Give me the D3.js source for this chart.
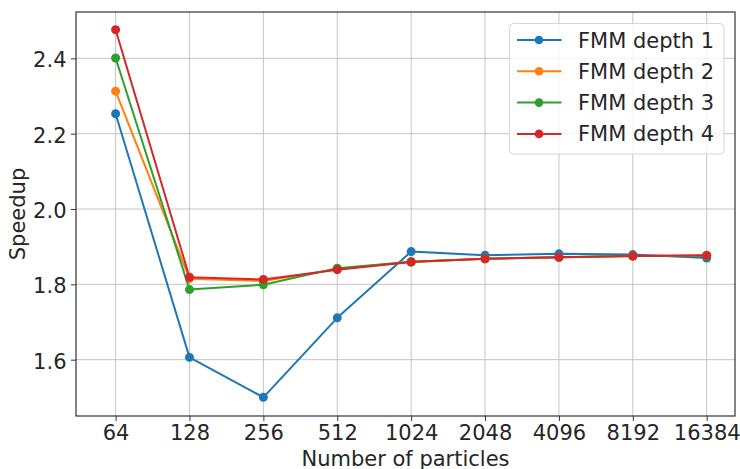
<!DOCTYPE html>
<html>
<head>
<meta charset="utf-8">
<script src="https://cdn.jsdelivr.net/npm/d3@7"></script>
<style>
  html, body { margin: 0; padding: 0; background: #fff; }
  svg { display: block; }
  text { font-family: "DejaVu Sans", sans-serif; fill: #262626; }
</style>
</head>
<body>
<svg id="chart" width="740" height="469"></svg>
<script>
const categories = ["64", "128", "256", "512", "1024", "2048", "4096", "8192", "16384"];
const seriesNames = ["FMM depth 1", "FMM depth 2", "FMM depth 3", "FMM depth 4"];
const depth1 = [2.253, 1.606, 1.500, 1.711, 1.887, 1.877, 1.881, 1.879, 1.870];
const depth2 = [2.313, 1.815, 1.809, 1.840, 1.860, 1.868, 1.872, 1.875, 1.876];
const depth3 = [2.401, 1.786, 1.799, 1.843, 1.860, 1.868, 1.872, 1.875, 1.876];
const depth4 = [2.476, 1.819, 1.813, 1.839, 1.859, 1.868, 1.872, 1.875, 1.877];
const yTicks = [1.6, 1.8, 2.0, 2.2, 2.4];
const colors = ["#1f77b4", "#ff7f0e", "#2ca02c", "#d62728"];

const series = [depth1, depth2, depth3, depth4].map((vals, i) => ({ name: seriesNames[i], values: vals, color: colors[i] }));

const svg = d3.select("#chart");
const pL = 76, pR = 735, pT = 12, pB = 416;
const FS = "21px";

const x = d3.scaleLinear().domain([-0.536, 8.383]).range([pL, pR]);
const y = d3.scaleLinear().domain([1.4504, 2.5231]).range([pB, pT]);

// grid
const grid = svg.append("g");
grid.selectAll("line.vx").data(categories).join("line")
  .attr("x1", (d, i) => x(i)).attr("x2", (d, i) => x(i))
  .attr("y1", pT).attr("y2", pB)
  .attr("stroke", "#c4c4c4").attr("stroke-width", 1);
grid.selectAll("line.hy").data(yTicks).join("line")
  .attr("x1", pL).attr("x2", pR)
  .attr("y1", d => y(d)).attr("y2", d => y(d))
  .attr("stroke", "#c4c4c4").attr("stroke-width", 1);

// axes
const xAxis = d3.axisBottom(x).tickValues(d3.range(categories.length))
  .tickFormat(i => categories[i]).tickSize(5).tickPadding(4);
const gx = svg.append("g").attr("transform", `translate(0,${pB})`).call(xAxis);
gx.select(".domain").remove();
gx.selectAll("line").attr("stroke", "#333");
gx.selectAll("text").style("font-size", FS).attr("fill", "#262626").style("font-family", "DejaVu Sans");

const yAxis = d3.axisLeft(y).tickValues(yTicks).tickFormat(d3.format(".1f")).tickSize(5).tickPadding(4.5);
const gy = svg.append("g").attr("transform", `translate(${pL},0)`).call(yAxis);
gy.select(".domain").remove();
gy.selectAll("line").attr("stroke", "#333");
gy.selectAll("text").style("font-size", FS).attr("fill", "#262626").style("font-family", "DejaVu Sans").attr("dy", "0.4em");

// lines and markers
const line = d3.line().x((d, i) => x(i)).y(d => y(d));
series.forEach(s => {
  const g = svg.append("g");
  g.append("path").datum(s.values).attr("d", line)
    .attr("fill", "none").attr("stroke", s.color).attr("stroke-width", 2).attr("stroke-linejoin", "round");
  g.selectAll("circle").data(s.values).join("circle")
    .attr("cx", (d, i) => x(i)).attr("cy", d => y(d)).attr("r", 4.5).attr("fill", s.color);
});

// frame
svg.append("rect").attr("x", pL).attr("y", pT).attr("width", pR - pL).attr("height", pB - pT)
  .attr("fill", "none").attr("stroke", "#333").attr("stroke-width", 1.2);

// axis labels
svg.append("text").attr("x", (pL + pR) / 2).attr("y", 465.5).attr("text-anchor", "middle")
  .style("font-size", FS).text("Number of particles");
svg.append("text").attr("transform", `translate(24.5,214) rotate(-90)`).attr("text-anchor", "middle")
  .style("font-size", FS).text("Speedup");

// legend
const lg = svg.append("g");
lg.append("rect").attr("x", 509.5).attr("y", 23.5).attr("width", 214.5).attr("height", 130.5)
  .attr("rx", 4).attr("fill", "rgba(255,255,255,0.8)").attr("stroke", "#d6d6d6").attr("stroke-width", 1);
const rows = lg.selectAll("g.row").data(series).join("g")
  .attr("transform", (d, i) => `translate(0,${40 + i * 31.3})`);
rows.append("line").attr("x1", 517).attr("x2", 561.5).attr("y1", 0).attr("y2", 0)
  .attr("stroke", d => d.color).attr("stroke-width", 2);
rows.append("circle").attr("cx", 539).attr("cy", 0).attr("r", 4.3).attr("fill", d => d.color);
rows.append("text").attr("x", 578).attr("y", 0).attr("dy", "0.36em")
  .style("font-size", FS).text(d => d.name);
</script>
</body>
</html>
